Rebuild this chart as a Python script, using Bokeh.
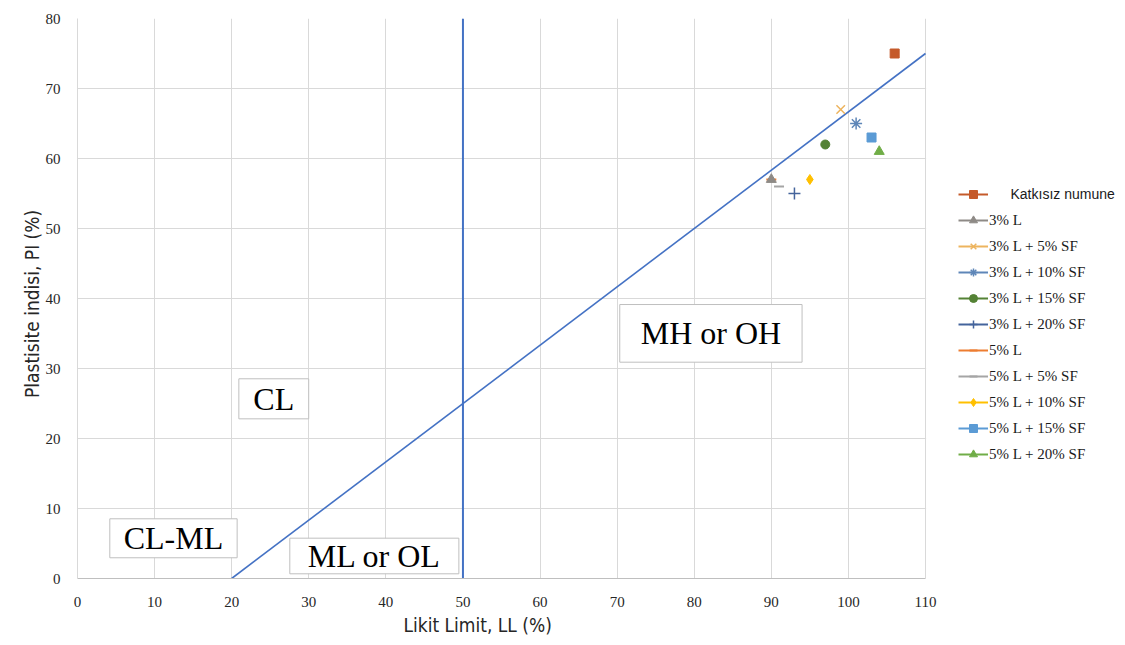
from bokeh.plotting import figure
from bokeh.models import Range1d, Legend, LegendItem, Label, FixedTicker, BoxAnnotation, Title
from bokeh.embed import file_html
from bokeh.resources import INLINE
from bokeh.core.properties import value

# ---- data ----
series_names = ["Katkısız numune", "3% L", "3% L + 5% SF", "3% L + 10% SF",
                "3% L + 15% SF", "3% L + 20% SF", "5% L", "5% L + 5% SF",
                "5% L + 10% SF", "5% L + 15% SF", "5% L + 20% SF"]
liquid_limit = [106, 90, 99, 101, 97, 93, 90, 91, 95, 103, 104]
plasticity_index = [75, 57, 67, 65, 62, 55, 57, 56, 57, 63, 61]

a_line_x = [20, 110]
a_line_y = [0, 75]
divider_x = [50, 50]
divider_y = [0, 80]

x_ticks = [0, 10, 20, 30, 40, 50, 60, 70, 80, 90, 100, 110]
y_ticks = [0, 10, 20, 30, 40, 50, 60, 70, 80]

x_title = "Likit Limit, LL  (%)"
y_title = "Plastisite indisi,  PI  (%)"
zone_labels = ["MH or OH", "CL", "CL-ML", "ML or OL"]

# ---- styles / annotation placement ----
markers = ["square", "triangle", "x", "asterisk", "circle", "cross", "dash", "dash",
           "diamond", "square", "triangle"]
colors = ["#C55A2A", "#8E8A86", "#EDB45E", "#5E86B8", "#548235", "#44649C",
          "#ED7D31", "#A5A5A5", "#FFC000", "#5B9BD5", "#70AD47"]
sizes = [9, 10, 12, 12, 9, 12, 10, 10, 10, 9, 10]
line_widths = [1, 1, 1.5, 1.5, 1, 1.5, 2, 2, 1, 1, 1]
draw_order = [0, 6, 1, 2, 3, 4, 5, 7, 8, 9, 10]

zone_left = [70.34, 20.93, 4.19, 27.54]
zone_right = [93.99, 29.99, 20.71, 49.47]
zone_bottom = [30.9, 22.81, 2.96, 0.67]
zone_top = [39.14, 28.53, 8.53, 5.76]

TITLE_FONT = "'Liberation Sans Narrow', 'DejaVu Sans Condensed', sans-serif"

# frame spans the legend area too; axis/grid limited to 0..110
x_min, x_max = x_ticks[0], x_ticks[-1]
plot_px = 848          # pixels for 0..110
frame_px = 1040        # frame incl. legend area
x_end = x_max * frame_px / plot_px

p = figure(width=1117, height=637, output_backend="svg", toolbar_location=None,
           x_range=Range1d(x_min, x_end), y_range=Range1d(y_ticks[0], y_ticks[-1]),
           min_border_left=77, min_border_right=0, min_border_top=18,
           min_border_bottom=59, outline_line_color=None,
           background_fill_color="white", border_fill_color="white")

# grid
p.xgrid.ticker = FixedTicker(ticks=x_ticks)
p.ygrid.ticker = FixedTicker(ticks=y_ticks)
p.grid.grid_line_color = "#D9D9D9"
p.grid.grid_line_width = 1
p.xgrid.bounds = (x_min, x_max)
mask = BoxAnnotation(left=x_max + 0.08, fill_color="white", fill_alpha=1,
                     line_color=None, level="underlay")
p.add_layout(mask)

# axes
p.xaxis.ticker = FixedTicker(ticks=x_ticks)
p.yaxis.ticker = FixedTicker(ticks=y_ticks)
p.xaxis.bounds = (x_min, x_max)
for ax in (p.xaxis, p.yaxis):
    ax.major_tick_line_color = None
    ax.minor_tick_line_color = None
    ax.axis_line_color = "#BFBFBF"
    ax.major_label_text_font = "Liberation Serif"
    ax.major_label_text_font_size = "15px"
    ax.major_label_text_color = "#262626"
    ax.axis_label_text_font = TITLE_FONT
    ax.axis_label_text_font_size = "19px"
    ax.axis_label_text_font_style = "normal"
    ax.axis_label_text_color = "#262626"
p.xaxis.major_label_standoff = 12
p.yaxis.major_label_standoff = 11
p.yaxis.axis_label = y_title
p.yaxis.axis_label_standoff = 0
p.yaxis.axis_line_color = "#D9D9D9"

# x-axis title, centred under the 0..110 part of the axis
xt = Title(text=x_title, align="left", offset=326, standoff=4,
           text_font=TITLE_FONT, text_font_size="19px", text_font_style="normal",
           text_color="#262626")
p.add_layout(xt, "below")

# reference lines
p.line(a_line_x, a_line_y, line_color="#4472C4", line_width=1.6)
p.line(divider_x, divider_y, line_color="#4472C4", line_width=2)

# zone boxes
p.quad(left=zone_left, right=zone_right, bottom=zone_bottom, top=zone_top,
       fill_color="white", line_color="#BFBFBF", line_width=1)
zone_cx = [(a + b) / 2 for a, b in zip(zone_left, zone_right)]
zone_cy = [(a + b) / 2 for a, b in zip(zone_bottom, zone_top)]
p.text(x=zone_cx, y=zone_cy, text=zone_labels, text_align="center",
       text_baseline="middle", text_font=value("Liberation Serif"),
       text_font_size="32px", text_color="#000000")

# series
renderers = {}
for i in draw_order:
    c = colors[i]
    rl = p.line(x=[liquid_limit[i]], y=[plasticity_index[i]], line_color=c, line_width=2)
    rm = p.scatter(x=[liquid_limit[i]], y=[plasticity_index[i]], marker=markers[i],
                   size=sizes[i], fill_color=c, line_color=c, line_width=line_widths[i])
    renderers[i] = [rl, rm]

items = []
for i in range(len(series_names)):
    lab = " " if i == 0 else series_names[i]
    items.append(LegendItem(label=lab, renderers=renderers[i]))

legend = Legend(items=items, location=(881, 114), orientation="vertical",
                border_line_color=None, background_fill_alpha=0,
                padding=0, margin=0, spacing=6, glyph_width=30, glyph_height=20,
                label_height=20, label_standoff=1,
                label_text_font="Liberation Serif", label_text_font_size="15px",
                label_text_color="#1A1A1A")
p.add_layout(legend, "center")

first_label = Label(x=933, y=385, x_units="screen", y_units="screen",
                    text=series_names[0], text_baseline="middle",
                    text_font="Liberation Sans", text_font_size="14px",
                    text_color="#1A1A1A")
p.add_layout(first_label)

open("out.html", "w").write(file_html(p, INLINE))
